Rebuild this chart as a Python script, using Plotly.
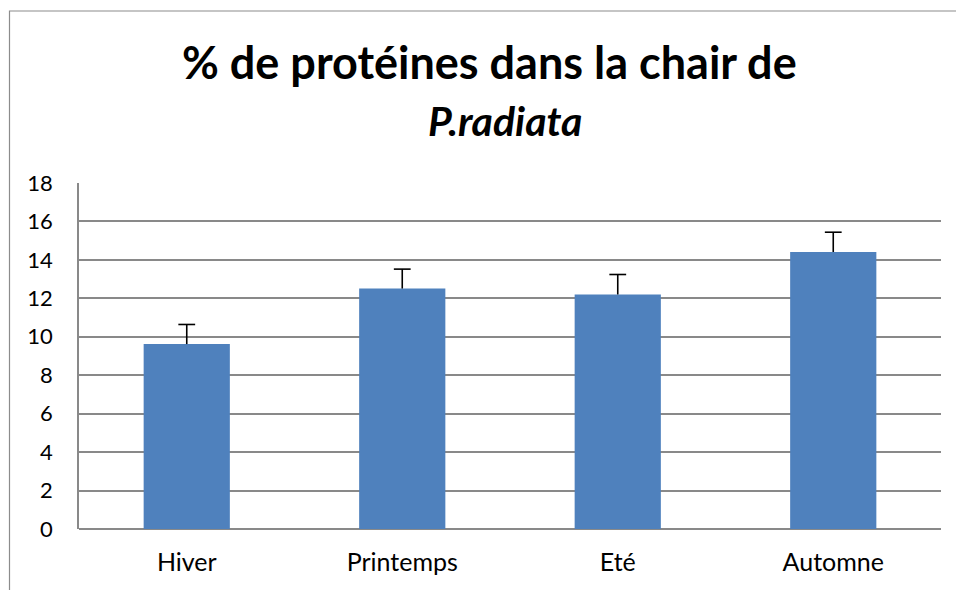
import plotly.graph_objects as go

# Seasonal protein content in P. radiata flesh
seasons = ["Hiver", "Printemps", "Eté", "Automne"]
protein_pct = [9.62, 12.51, 12.20, 14.41]
protein_err = [1.02, 1.01, 1.04, 1.03]
y_ticks = [0, 2, 4, 6, 8, 10, 12, 14, 16, 18]

W, H = 956, 590
ML, MR, MT, MB = 79, 15, 183, 61
PW, PH = W - ML - MR, H - MT - MB


def px_x(x):
    return (x - ML) / PW


def px_y(y):
    return (H - MB - y) / PH


font_family = "Lato, 'Open Sans', sans-serif"
grid_col = "#898989"

bars = go.Bar(
    x=seasons,
    y=protein_pct,
    marker=dict(color="#4F81BD", line=dict(width=0)),
    width=0.4,
    hoverinfo="x+y",
)

# upper error bars only: stem from the bar top, cap at value + error
err_tops = [v + e for v, e in zip(protein_pct, protein_err)]
errors = go.Scatter(
    x=seasons,
    y=err_tops,
    mode="markers",
    marker=dict(symbol="line-ew-open", size=12, color="black",
                line=dict(color="black", width=1.6)),
    error_y=dict(
        type="data",
        symmetric=False,
        array=[0] * len(protein_err),
        arrayminus=protein_err,
        color="black",
        thickness=1.6,
        width=0,
    ),
    hoverinfo="skip",
)

fig = go.Figure([bars, errors])

fig.update_layout(
    width=W,
    height=H,
    margin=dict(l=ML, r=MR, t=MT, b=MB),
    paper_bgcolor="white",
    plot_bgcolor="white",
    showlegend=False,
    font=dict(family=font_family, color="black", size=22),
    xaxis=dict(
        showgrid=False,
        showline=False,
        ticks="",
        tickfont=dict(size=25),
        ticklabelstandoff=16,
    ),
    yaxis=dict(
        range=[0, 18],
        tickvals=y_ticks,
        showgrid=True,
        gridcolor=grid_col,
        gridwidth=1.6,
        zeroline=True,
        zerolinecolor=grid_col,
        zerolinewidth=1.6,
        showline=True,
        linecolor=grid_col,
        linewidth=1.6,
        ticks="",
        tickfont=dict(size=22),
        ticklabelstandoff=20,
    ),
    annotations=[
        dict(
            text="<b>% de protéines dans la chair de</b>",
            x=px_x(489), y=px_y(62), xref="paper", yref="paper",
            xanchor="center", yanchor="middle", showarrow=False,
            font=dict(size=45, family=font_family, color="black"),
        ),
        dict(
            text="<b><i>P.radiata</i></b>",
            x=px_x(505), y=px_y(121), xref="paper", yref="paper",
            xanchor="center", yanchor="middle", showarrow=False,
            font=dict(size=41, family=font_family, color="black"),
        ),
    ],
    shapes=[
        # outer chart frame (left and top edges visible)
        dict(
            type="rect", xref="paper", yref="paper",
            x0=px_x(9.5), x1=px_x(W + 20), y0=px_y(H + 20), y1=px_y(11),
            line=dict(color="#8C8C8C", width=1.2),
            fillcolor="rgba(0,0,0,0)", layer="below",
        ),
    ],
)

fig.write_html("out.html")
